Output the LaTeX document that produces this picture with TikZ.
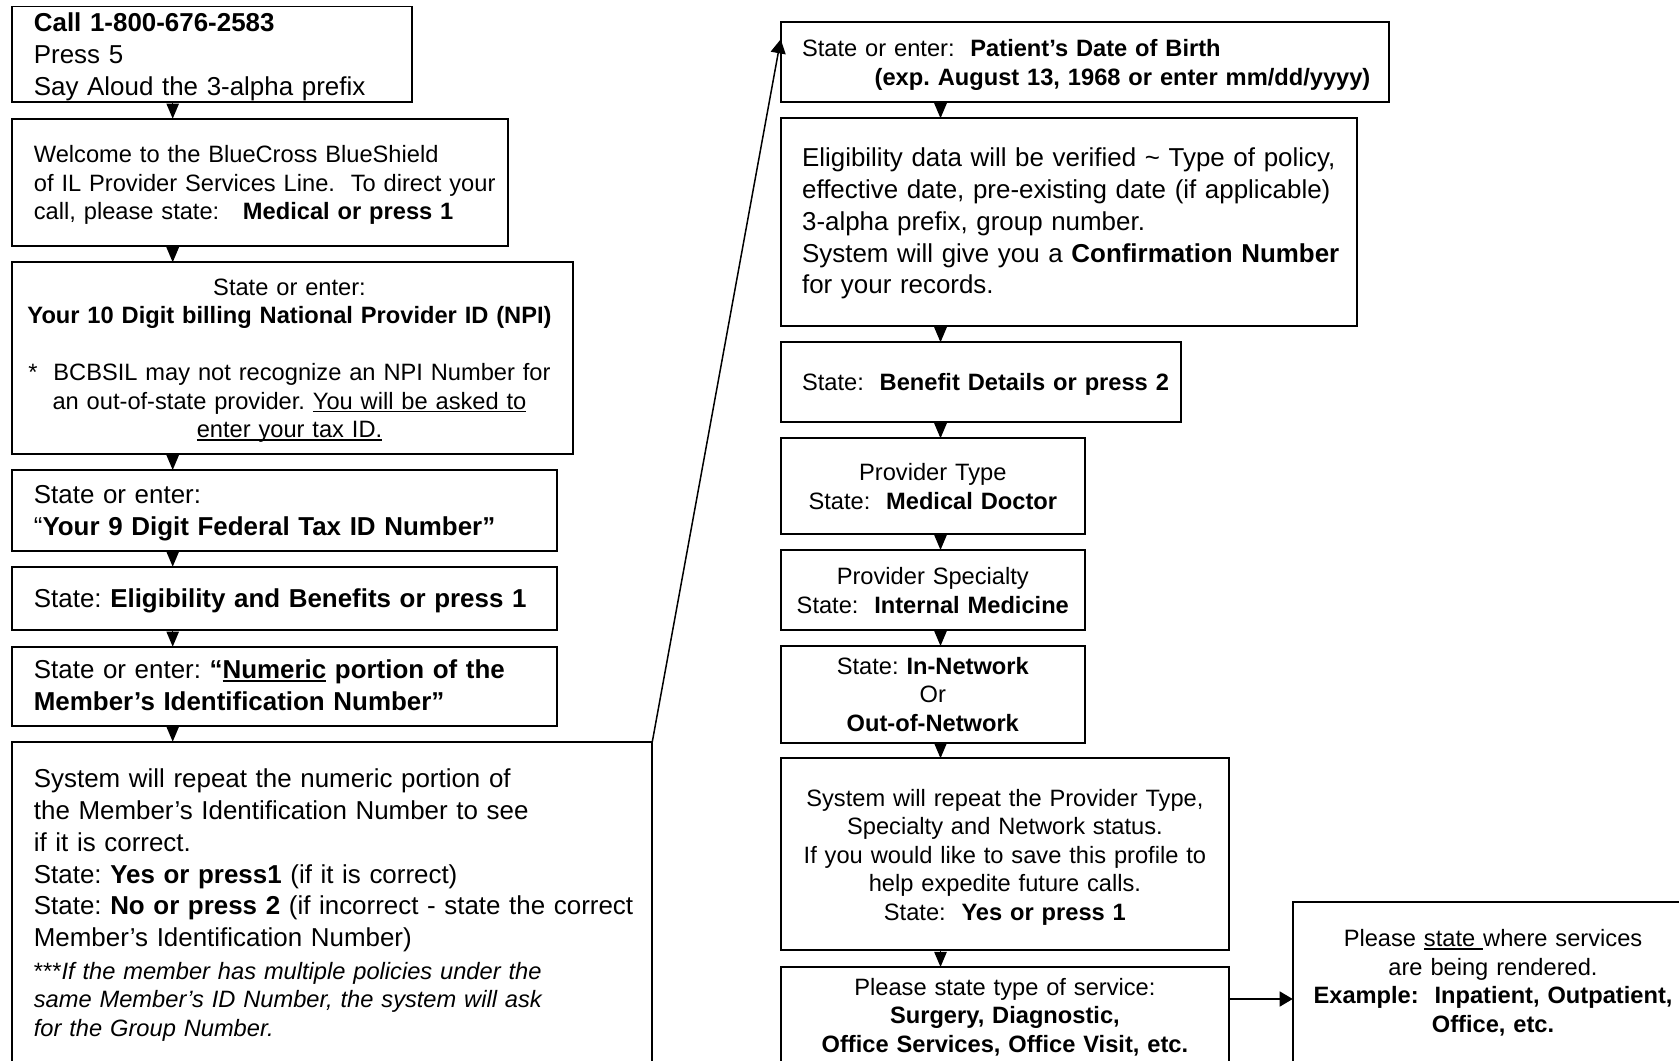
\documentclass[tikz,border=0pt]{standalone}
\usepackage{fontspec}
\setmainfont{Liberation Sans}[Ligatures=CommonOff]
\usetikzlibrary{arrows.meta,calc}
\newcommand\FntL{\fontsize{12.96pt}{15.9pt}\selectfont}
\newcommand\FntS{\fontsize{11.83pt}{14.25pt}\selectfont}
\newsavebox\ulbox
\newcommand\ulin[1]{\leavevmode\sbox\ulbox{#1}\rlap{\rule[-1.5pt]{\wd\ulbox}{0.7pt}}\usebox\ulbox}
\newcommand\mkbox[5]{\node[bx,minimum width={(#4-#2)*0.5pt},minimum height={(#5-#3)*0.5pt}] (#1) at (#2,#3) {};}
\AtBeginDocument{\frenchspacing}
\begin{document}
\begin{tikzpicture}[x=0.5pt,y=-0.5pt,
  bx/.style={draw,line width=0.9pt,inner sep=0pt,outer sep=0pt,anchor=north west},
  tl/.style={anchor=base west,inner sep=0pt,align=left,text width=330pt},
  tc/.style={anchor=base,inner sep=0pt,align=center,text width=330pt},
  flow/.style={line width=0.75pt,-{Triangle[width=6.2pt,length=7.6pt]}},
  longarr/.style={line width=0.75pt,-{Triangle[width=7.5pt,length=7pt]}},
  harr/.style={line width=0.75pt,-{Triangle[width=7.5pt,length=6.5pt]}}]
\useasboundingbox (0,0) rectangle (1679,1060);
% left column boxes
\mkbox{b1}{12.3}{6.4}{412}{102.3}
\mkbox{b2}{12.3}{118.7}{508}{245.7}
\mkbox{b3}{12.3}{262.3}{573.3}{454}
\mkbox{b4}{12.3}{470}{556.7}{550.7}
\mkbox{b5}{12.3}{566.7}{556.7}{630}
\mkbox{b6}{12.3}{646.7}{556.7}{726}
\mkbox{b7}{12.3}{741.7}{652.3}{1080}
% right column boxes
\mkbox{b8}{780.7}{22.3}{1388.8}{101.7}
\mkbox{b9}{780.7}{118.3}{1356.7}{326}
\mkbox{b10}{780.7}{342.3}{1181}{421.7}
\mkbox{b11}{780.7}{438.3}{1085}{534}
\mkbox{b12}{780.7}{550}{1085}{630}
\mkbox{b13}{780.7}{646}{1085}{742.7}
\mkbox{b14}{780.7}{758.3}{1229}{950}
\mkbox{b15}{780.7}{967}{1229}{1080}
\mkbox{b16}{1292.7}{901.7}{1700}{1080}
% texts
\node[tl,font=\FntL] (t1) at (33.5,31.4) {\textbf{Call 1-800-676-2583}\\Press 5\\Say Aloud the 3-alpha prefix};
\node[tl,font=\FntS] (t2) at (33.5,162.5) {Welcome to the BlueCross BlueShield\\of IL Provider Services Line.~~To direct your\\call, please state:~~~\textbf{Medical or press 1}};
\node[tc,font=\FntS] (t3) at (289.5,295) {State or enter:\\\textbf{Your 10 Digit billing National Provider ID (NPI)}\\[14.25pt]{}*~~BCBSIL may not recognize an NPI Number for\\an out-of-state provider. \ulin{You will be asked to}\\\ulin{enter your tax ID.}};
\node[tl,font=\FntL] (t4) at (33.5,503.3) {State or enter:\\“\textbf{Your 9 Digit Federal Tax ID Number”}};
\node[tl,font=\FntL] (t5) at (33.5,607.8) {State: \textbf{Eligibility and Benefits or press 1}};
\node[tl,font=\FntL] (t6) at (33.5,678.5) {State or enter: \textbf{“\ulin{Numeric} portion of the}\\\textbf{Member’s Identification Number”}};
\node[tl,font=\FntL] (t7) at (33.5,787.7) {System will repeat the numeric portion of\\the Member’s Identification Number to see\\if it is correct.\\State: \textbf{Yes or press1} (if it is correct)\\State: \textbf{No or press 2} (if incorrect - state the correct\\Member’s Identification Number)};
\node[tl,font=\FntS] (t7b) at (33.5,979.3) {***\textit{If the member has multiple policies under the}\\\textit{same Member’s ID Number, the system will ask}\\\textit{for the Group Number.}};
\node[tl,font=\fontsize{11.83pt}{14.65pt}\selectfont] (t8) at (801.7,56.7) {State or enter:~~\textbf{Patient’s Date of Birth}\\\hspace*{36.3pt}\textbf{(exp. August 13, 1968 or enter mm/dd/yyyy)}};
\node[tl,font=\FntL] (t9) at (801.7,166.7) {Eligibility data will be verified \textasciitilde{} Type of policy,\\effective date, pre-existing date (if applicable)\\3-alpha prefix, group number.\\System will give you a \textbf{Confirmation Number}\\for your records.};
\node[tl,font=\FntS] (t10) at (801.7,390.7) {State:~~\textbf{Benefit Details or press 2}};
\node[tc,font=\FntS] (t11) at (932.8,480.7) {Provider Type\\State:~~\textbf{Medical Doctor}};
\node[tc,font=\FntS] (t12) at (932.8,584.5) {Provider Specialty\\State:~~\textbf{Internal Medicine}};
\node[tc,font=\FntS] (t13) at (932.8,674.1) {State: \textbf{In-Network}\\Or\\\textbf{Out-of-Network}};
\node[tc,font=\FntS] (t14) at (1004.9,806) {System will repeat the Provider Type,\\Specialty and Network status.\\If you would like to save this profile to\\help expedite future calls.\\State:~~\textbf{Yes or press 1}};
\node[tc,font=\FntS] (t15) at (1004.9,995) {Please state type of service:\\\textbf{Surgery, Diagnostic,}\\\textbf{Office Services, Office Visit, etc.}};
\node[tc,font=\FntS] (t16) at (1493,946.7) {Please \ulin{state\ }where services\\are being rendered.\\\textbf{Example:~~Inpatient, Outpatient,}\\\textbf{Office, etc.}};
% connectors
\coordinate (lx) at (172.7,0);
\coordinate (rx) at (940.5,0);
\coordinate (hy) at (0,999);
\draw[flow] (b1.south -| lx) -- (b2.north -| lx);
\draw[flow] (b2.south -| lx) -- (b3.north -| lx);
\draw[flow] (b3.south -| lx) -- (b4.north -| lx);
\draw[flow] (b4.south -| lx) -- (b5.north -| lx);
\draw[flow] (b5.south -| lx) -- (b6.north -| lx);
\draw[flow] (b6.south -| lx) -- (b7.north -| lx);
\draw[flow] (b8.south -| rx) -- (b9.north -| rx);
\draw[flow] (b9.south -| rx) -- (b10.north -| rx);
\draw[flow] (b10.south -| rx) -- (b11.north -| rx);
\draw[flow] (b11.south -| rx) -- (b12.north -| rx);
\draw[flow] (b12.south -| rx) -- (b13.north -| rx);
\draw[flow] (b13.south -| rx) -- (b14.north -| rx);
\draw[flow] (b14.south -| rx) -- (b15.north -| rx);
\draw[longarr] (b7.north east) -- ($(b8.north west)!0.214!(b8.south west)$);
\draw[harr] (b15.east |- hy) -- (b16.west |- hy);
\end{tikzpicture}
\end{document}
